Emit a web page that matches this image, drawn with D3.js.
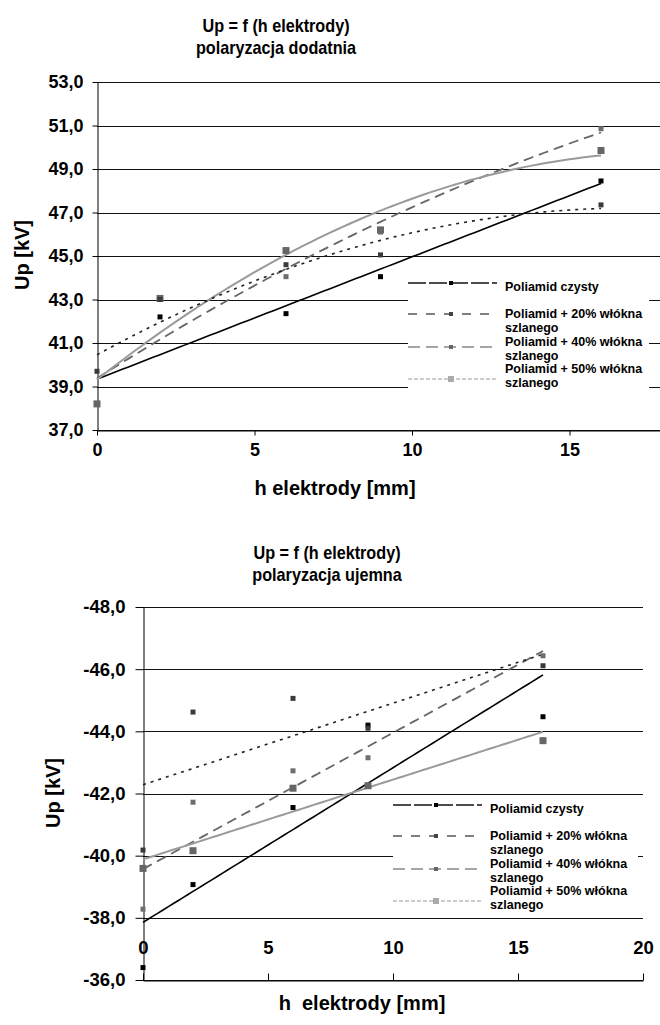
<!DOCTYPE html>
<html>
<head>
<meta charset="utf-8">
<script src="https://cdn.jsdelivr.net/npm/d3@7"></script>
<style>
  body { margin: 0; background: #fff; }
  svg text { font-family: Arial, "Liberation Sans", sans-serif; font-weight: bold; fill: #000; }
</style>
</head>
<body>
<svg id="chart" width="660" height="1025"></svg>
<script>
// electrode height [mm]
const hValues = [0, 2, 6, 9, 16];

const seriesNames = [
	"Poliamid czysty",
	"Poliamid + 20% włókna szlanego",
	"Poliamid + 40% włókna szlanego",
	"Poliamid + 50% włókna szlanego"
];

// positive polarization, Up [kV]
const posCzysty = [38.2, 42.2, 42.35, 44.05, 48.45];
const pos20 = [38.2, 43.0, 44.05, 46.1, 50.85];
const pos40 = [38.2, 43.05, 45.25, 46.2, 49.85];
const pos50 = [39.7, 43.0, 44.6, 45.05, 47.35];

// negative polarization, Up [kV]
const negCzysty = [-36.4, -39.07, -41.55, -44.2, -44.47];
const neg20 = [-38.28, -41.72, -42.73, -43.15, -46.43];
const neg40 = [-39.59, -40.16, -42.17, -42.25, -43.7];
const neg50 = [-40.18, -44.62, -45.06, -44.1, -46.11];

// trendline order per series (1 = linear, 2 = polynomial)
const posTrendOrder = [1, 2, 2, 2];
const negTrendOrder = [1, 1, 1, 1];

const posTicksY = [37, 39, 41, 43, 45, 47, 49, 51, 53];
const posTicksX = [0, 5, 10, 15];
const negTicksY = [-48, -46, -44, -42, -40, -38, -36];
const negTicksX = [0, 5, 10, 15, 20];

// series styles: line + marker
const styles = [
	{ stroke: "#000", width: 1.6, dash: null, marker: "#000", size: 5,
	  legStroke: "#111", legDash: "18,3", legMarker: "#000", legSize: 4 },
	{ stroke: "#666", width: 1.8, dash: "10,6", marker: "#6e6e6e", size: 5,
	  legStroke: "#555", legDash: "9,9", legMarker: "#444", legSize: 4 },
	{ stroke: "#9a9a9a", width: 2, dash: null, marker: "#666", size: 7,
	  legStroke: "#888", legDash: "12,6", legMarker: "#666", legSize: 4 },
	{ stroke: "#222", width: 1.6, dash: "3,5", marker: "#3a3a3a", size: 5,
	  legStroke: "#bbb", legDash: "4,2", legMarker: "#aaa", legSize: 6 }
];

const svg = d3.select("#chart");

function fmt(v) {
	return v.toFixed(1).replace(".", ",");
}

// least squares polynomial fit, returns coefficients [a0, a1, ...]
function polyFit(xs, ys, order) {
	let n = order + 1;
	let m = [];
	for (let i = 0; i < n; i++) {
		m.push([]);
		for (let j = 0; j < n; j++) {
			m[i].push(d3.sum(xs, x => Math.pow(x, i + j)));
		}
		m[i].push(d3.sum(xs, (x, k) => Math.pow(x, i) * ys[k]));
	}
	for (let i = 0; i < n; i++) {
		for (let r = i + 1; r < n; r++) {
			let f = m[r][i] / m[i][i];
			for (let c = i; c <= n; c++) m[r][c] -= f * m[i][c];
		}
	}
	let coef = new Array(n).fill(0);
	for (let i = n - 1; i >= 0; i--) {
		let s = m[i][n];
		for (let c = i + 1; c < n; c++) s -= m[i][c] * coef[c];
		coef[i] = s / m[i][i];
	}
	return coef;
}

function drawChart(cfg) {
	let g = svg.append("g");

	let x = d3.scaleLinear().domain(cfg.xDomain).range(cfg.xRange);
	let y = d3.scaleLinear().domain(cfg.yDomain).range(cfg.yRange);

	// Title (narrowed a little, like the original)
	cfg.title.forEach((t, i) => {
		g.append("text")
			.attr("transform", "translate(" + cfg.titleX + "," + (cfg.titleY + i * cfg.titleGap) + ") scale(0.9,1)")
			.attr("text-anchor", "middle")
			.attr("font-size", cfg.titleSize)
			.text(t);
	});

	// Gridlines
	g.selectAll(".grid")
		.data(cfg.yTicks)
		.join("line")
		.attr("class", "grid")
		.attr("x1", cfg.xRange[0])
		.attr("x2", cfg.gridRight)
		.attr("y1", d => Math.round(y(d)) + 0.5)
		.attr("y2", d => Math.round(y(d)) + 0.5)
		.attr("stroke", "#111")
		.attr("stroke-width", 1);

	// Y axis
	let yAxis = d3.axisLeft(y)
		.tickValues(cfg.yTicks)
		.tickSize(cfg.yTickSize)
		.tickSizeOuter(0)
		.tickPadding(cfg.yTickPadding)
		.tickFormat(fmt);

	let gy = g.append("g")
		.attr("transform", "translate(" + (Math.round(cfg.xRange[0]) + 0.5) + ",0)")
		.call(yAxis);
	gy.select(".domain").attr("stroke", "#000");
	gy.selectAll(".tick line").attr("stroke", "#000");
	gy.selectAll("text")
		.attr("font-size", cfg.tickSize)
		.attr("font-family", null);

	// X axis
	let xAxis = (cfg.xLabelsAbove ? d3.axisTop(x) : d3.axisBottom(x))
		.tickValues(cfg.xTicks)
		.tickSize(cfg.xTickSize)
		.tickSizeOuter(0)
		.tickPadding(cfg.xTickPadding)
		.tickFormat(d3.format("d"));

	let gx = g.append("g")
		.attr("transform", "translate(0," + (Math.round(y(cfg.yDomain[0])) + 0.5) + ")")
		.call(xAxis);
	gx.select(".domain").attr("stroke", "#000");
	gx.selectAll(".tick line").attr("stroke", "#000");
	gx.selectAll("text")
		.attr("font-size", cfg.tickSize)
		.attr("font-family", null);

	// Axis titles
	g.append("text")
		.attr("x", cfg.xTitleX)
		.attr("y", cfg.xTitleY)
		.attr("text-anchor", "middle")
		.attr("font-size", cfg.axisTitleSize)
		.attr("xml:space", "preserve")
		.text(cfg.xTitle);

	g.append("text")
		.attr("transform", "translate(" + cfg.yTitleX + "," + cfg.yTitleY + ") rotate(-90)")
		.attr("text-anchor", "middle")
		.attr("font-size", cfg.axisTitleSize)
		.text("Up [kV]");

	// Trendlines
	let line = d3.line()
		.x(d => x(d[0]))
		.y(d => y(d[1]));

	let xMin = d3.min(hValues), xMax = d3.max(hValues);

	cfg.series.forEach((vals, i) => {
		let coef = polyFit(hValues, vals, cfg.orders[i]);
		let pts = d3.range(xMin, xMax + 0.001, 0.2).map(h => [h, d3.sum(coef, (c, k) => c * Math.pow(h, k))]);
		let st = styles[i];
		g.append("path")
			.datum(pts)
			.attr("fill", "none")
			.attr("stroke", st.stroke)
			.attr("stroke-width", st.width)
			.attr("stroke-dasharray", st.dash)
			.attr("d", line);
	});

	// Markers
	cfg.series.forEach((vals, i) => {
		let st = styles[i];
		g.selectAll(".m" + i)
			.data(vals)
			.join("rect")
			.attr("class", "m" + i)
			.attr("x", (d, k) => x(hValues[k]) - st.size / 2)
			.attr("y", d => y(d) - st.size / 2)
			.attr("width", st.size)
			.attr("height", st.size)
			.attr("fill", st.marker);
	});

	// Legend
	let lg = g.append("g")
		.attr("transform", "translate(" + cfg.legend.x + "," + cfg.legend.y + ")");

	lg.append("rect")
		.attr("width", cfg.legend.w)
		.attr("height", cfg.legend.h)
		.attr("fill", "#fff");

	let rowText = [16, 43, 71, 98];
	let rowSample = [8, 39, 72, 104];

	seriesNames.forEach((name, i) => {
		let st = styles[i];
		let sy = rowSample[i];
		lg.append("line")
			.attr("x1", 0)
			.attr("x2", 89)
			.attr("y1", sy)
			.attr("y2", sy)
			.attr("stroke", st.legStroke)
			.attr("stroke-width", 1.5)
			.attr("stroke-dasharray", st.legDash);
		lg.append("rect")
			.attr("x", 43 - st.legSize / 2)
			.attr("y", sy - st.legSize / 2)
			.attr("width", st.legSize)
			.attr("height", st.legSize)
			.attr("fill", st.legMarker);

		let t = lg.append("text")
			.attr("x", 97)
			.attr("y", rowText[i])
			.attr("font-size", cfg.legend.fontSize);
		name.replace("włókna ", "włókna\n").split("\n").forEach((part, k) => {
			t.append("tspan").attr("x", 97).attr("dy", k === 0 ? 0 : 14).text(part);
		});
	});
}

// Positive polarization chart
drawChart({
	xDomain: [0, 18], xRange: [97, 664],
	yDomain: [37, 53], yRange: [430, 82],
	xTicks: posTicksX, yTicks: posTicksY,
	series: [posCzysty, pos20, pos40, pos50],
	orders: posTrendOrder,
	title: ["Up = f (h elektrody)", "polaryzacja dodatnia"],
	titleX: 276, titleY: 32, titleGap: 22, titleSize: 18,
	tickSize: 18, axisTitleSize: 20,
	yTickSize: 5, yTickPadding: 9,
	xTickSize: 5, xTickPadding: 8, xLabelsAbove: false,
	gridRight: 660,
	xTitle: "h elektrody [mm]", xTitleX: 335, xTitleY: 495,
	yTitleX: 29, yTitleY: 255,
	legend: { x: 408, y: 275, w: 241, h: 117, fontSize: 12.5 }
});

// Negative polarization chart
drawChart({
	xDomain: [0, 20], xRange: [143, 643],
	yDomain: [-36, -48], yRange: [980, 607],
	xTicks: negTicksX, yTicks: negTicksY,
	series: [negCzysty, neg20, neg40, neg50],
	orders: negTrendOrder,
	title: ["Up = f (h elektrody)", "polaryzacja ujemna"],
	titleX: 327, titleY: 559, titleGap: 22, titleSize: 18,
	tickSize: 18.5, axisTitleSize: 20,
	yTickSize: 8, yTickPadding: 10,
	xTickSize: 7, xTickPadding: 20, xLabelsAbove: true,
	gridRight: 643,
	xTitle: "h  elektrody [mm]", xTitleX: 362, xTitleY: 1010,
	yTitleX: 60, yTitleY: 793,
	legend: { x: 393, y: 797, w: 245, h: 117, fontSize: 12.5 }
});
</script>
</body>
</html>
